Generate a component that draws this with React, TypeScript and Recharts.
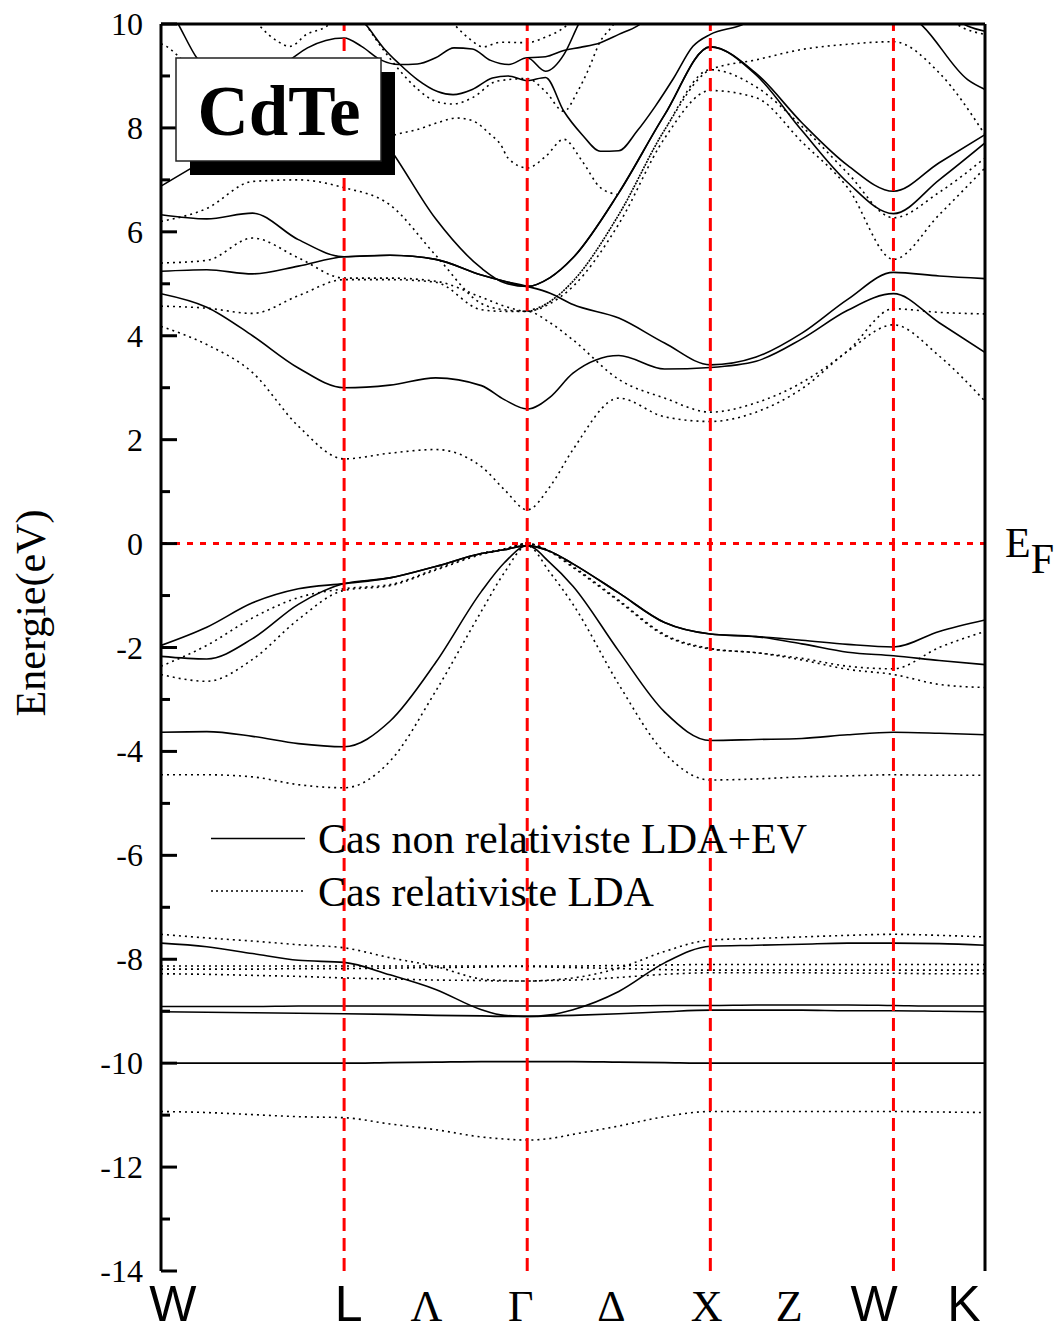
import React from 'react';
import { LineChart, Line, XAxis, YAxis, ReferenceLine } from 'recharts';

const serif = "'Liberation Serif', 'Times New Roman', Times, serif";
const sans = "'Liberation Sans', Arial, Helvetica, sans-serif";

// k path: W=0, L=2, Gamma=4, X=6, W=8, K=9
const symPoints = [2, 4, 6, 8];
const xTickMarks = [0.79, 1.79, 2.79, 3.79, 4.79, 5.79, 6.79, 7.79, 8.79];
const xLabels = ['W', 'L', 'Λ', 'Γ', 'Δ', 'X', 'Z', 'W', 'K'];
const xLabelPos = [0.13, 2.05, 2.9, 3.93, 4.92, 5.96, 6.86, 7.79, 8.77];
const yTicks = [-14, -13, -12, -11, -10, -9, -8, -7, -6, -5, -4, -3, -2, -1, 0, 1, 2, 3, 4, 5, 6, 7, 8, 9, 10];

const kGrid = [0, 0.5, 1, 1.5, 2, 2.5, 3, 3.5, 3.75, 4, 4.25, 4.5, 5, 5.5, 6, 6.5, 7, 7.5, 8, 8.5, 9];

// non relativistic LDA+EV (solid)
const sBand10 = [-10.0, -10.0, -10.0, -10.0, -10.0, -9.99, -9.98, -9.97, -9.97, -9.97, -9.97, -9.97, -9.98, -9.99, -10.0, -10.0, -10.0, -10.0, -10.0, -10.0, -10.0];
const sD1 = [-9.01, -9.02, -9.03, -9.04, -9.05, -9.06, -9.08, -9.09, -9.1, -9.1, -9.09, -9.08, -9.05, -9.01, -8.98, -8.98, -8.98, -8.99, -8.99, -9.0, -9.01];
const sD2 = [-8.91, -8.91, -8.91, -8.9, -8.9, -8.9, -8.9, -8.9, -8.9, -8.9, -8.9, -8.9, -8.9, -8.89, -8.89, -8.88, -8.88, -8.88, -8.89, -8.9, -8.9];
const sD3 = [-7.69, -7.76, -7.89, -8.02, -8.06, -8.3, -8.58, -8.97, -9.08, -9.1, -9.07, -8.97, -8.62, -8.07, -7.75, -7.73, -7.71, -7.69, -7.69, -7.7, -7.73];
const v1 = [-1.96, -1.61, -1.14, -0.87, -0.77, -0.66, -0.44, -0.19, -0.12, -0.04, -0.15, -0.39, -0.95, -1.52, -1.74, -1.79, -1.86, -1.94, -1.99, -1.69, -1.47];
const v2 = [-2.17, -2.22, -1.83, -1.17, -0.77, -0.66, -0.44, -0.19, -0.12, -0.04, -0.15, -0.39, -0.95, -1.52, -1.74, -1.79, -1.93, -2.09, -2.16, -2.25, -2.33];
const v3 = [-3.63, -3.62, -3.71, -3.85, -3.91, -3.42, -2.29, -0.92, -0.37, -0.04, -0.37, -0.82, -2.07, -3.24, -3.79, -3.77, -3.75, -3.68, -3.63, -3.65, -3.68];
const c1 = [4.81, 4.55, 4.0, 3.38, 3.0, 3.05, 3.19, 3.04, 2.77, 2.59, 2.82, 3.28, 3.62, 3.36, 3.39, 3.51, 3.94, 4.49, 4.81, 4.25, 3.68];
const c2 = [5.24, 5.27, 5.19, 5.34, 5.52, 5.55, 5.47, 5.17, 5.05, 4.95, 4.82, 4.6, 4.34, 3.86, 3.44, 3.59, 4.05, 4.7, 5.22, 5.15, 5.1];
const c3a = [6.33, 6.25, 6.36, 5.85, 5.52, 5.55, 5.47, 5.17, 5.05, 4.95, 5.12, 5.5, 6.75, 8.25, 9.56, 9.05, 8.1, 7.28, 6.78, 7.33, 7.87];
const c3b = [6.88, 7.4, 7.9, 8.3, 8.7, 7.6, 6.25, 5.3, 5.02, 4.95, 5.12, 5.5, 6.75, 8.25, 9.56, 9.02, 7.95, 6.95, 6.35, 7.0, 7.71];
// upper solid bands, [k, E]
const u1 = [[0, 10.6], [0.2, 9.96], [0.39, 9.35], [0.6, 9.0], [1.0, 8.9], [1.4, 9.3], [1.6, 9.54], [2, 9.73], [2.19, 9.57], [2.4, 9.31], [2.6, 9.22], [2.8, 9.23], [3.0, 9.35], [3.2, 9.54], [3.4, 9.52], [3.6, 9.3], [3.8, 9.22], [4, 9.35], [4.2, 9.09], [4.4, 9.41], [4.55, 9.96], [4.7, 10.5]];
const u1b = [[4, 9.35], [4.2, 9.37], [4.4, 9.49], [4.58, 9.55], [4.8, 9.64], [5.0, 9.8], [5.2, 9.96], [5.5, 10.4]];
const u2 = [[1.9, 10.6], [2.25, 9.96], [2.43, 9.54], [2.61, 9.22], [2.8, 8.93], [3.02, 8.7], [3.19, 8.64], [3.4, 8.74], [3.62, 8.96], [3.79, 9.0], [4, 8.91], [4.2, 8.97], [4.4, 8.32], [4.6, 7.87], [4.8, 7.55], [5, 7.56], [5.2, 7.94], [5.4, 8.42], [5.6, 8.96], [5.81, 9.57], [6, 9.8], [6.31, 9.96], [7, 10.6], [7.8, 10.6], [8.32, 9.96], [8.81, 8.93], [9, 8.74]];
const u3 = [[8.3, 10.8], [8.81, 9.96], [9, 9.86]];

// relativistic LDA (dotted)
const dS = [-10.93, -10.95, -10.99, -11.03, -11.05, -11.17, -11.28, -11.42, -11.46, -11.48, -11.45, -11.37, -11.21, -11.03, -10.93, -10.93, -10.93, -10.93, -10.93, -10.94, -10.95];
const dDip = [-7.52, -7.59, -7.65, -7.72, -7.78, -7.97, -8.14, -8.38, -8.41, -8.42, -8.4, -8.36, -8.17, -7.85, -7.63, -7.6, -7.57, -7.54, -7.52, -7.54, -7.57];
const dD2 = [-8.13, -8.13, -8.13, -8.13, -8.13, -8.13, -8.13, -8.13, -8.13, -8.13, -8.13, -8.13, -8.12, -8.11, -8.1, -8.1, -8.1, -8.1, -8.1, -8.1, -8.1];
const dD3 = [-8.19, -8.19, -8.19, -8.18, -8.18, -8.17, -8.16, -8.15, -8.14, -8.14, -8.15, -8.16, -8.18, -8.2, -8.21, -8.21, -8.21, -8.21, -8.21, -8.21, -8.21];
const dD4 = [-8.28, -8.29, -8.31, -8.33, -8.36, -8.38, -8.4, -8.41, -8.42, -8.42, -8.41, -8.4, -8.35, -8.29, -8.26, -8.26, -8.26, -8.27, -8.27, -8.28, -8.28];
const d1 = [-2.36, -1.96, -1.43, -1.04, -0.87, -0.79, -0.49, -0.19, -0.1, 0, -0.15, -0.44, -1.09, -1.75, -2.02, -2.1, -2.21, -2.36, -2.41, -2.0, -1.69];
const d2 = [-2.52, -2.65, -2.23, -1.46, -0.9, -0.81, -0.51, -0.21, -0.11, 0, -0.16, -0.46, -1.11, -1.77, -2.03, -2.1, -2.24, -2.42, -2.52, -2.71, -2.77];
const d3 = [-4.45, -4.45, -4.49, -4.64, -4.7, -4.19, -2.84, -1.3, -0.56, -0.04, -0.56, -1.17, -2.71, -4.03, -4.55, -4.53, -4.49, -4.47, -4.45, -4.46, -4.46];
const dc1 = [4.18, 3.83, 3.29, 2.26, 1.63, 1.74, 1.81, 1.48, 1.04, 0.65, 1.1, 1.81, 2.8, 2.44, 2.35, 2.53, 2.98, 3.7, 4.21, 3.61, 2.74];
const dB = [4.57, 4.53, 4.43, 4.77, 5.08, 5.08, 5.03, 4.5, 4.47, 4.47, 4.25, 3.92, 3.16, 2.8, 2.53, 2.71, 3.1, 3.71, 4.52, 4.45, 4.42];
const dA = [5.4, 5.45, 5.88, 5.5, 5.11, 5.11, 5.05, 4.74, 4.57, 4.47, 4.66, 5.05, 6.33, 7.96, 9.12, 9.31, 9.51, 9.61, 9.66, 9.06, 7.87];
const dCc = [6.2, 6.45, 6.97, 7.0, 6.85, 6.52, 5.55, 4.62, 4.5, 4.47, 4.62, 4.95, 6.15, 7.8, 8.72, 8.58, 7.73, 6.85, 5.47, 6.33, 7.23];
const dD = [[4, 4.47], [4.25, 4.66], [4.5, 5.05], [5, 6.33], [5.5, 7.96], [6, 9.12], [6.5, 8.79], [7, 8.03], [7.5, 7.13], [8, 6.27], [8.5, 6.76], [9, 7.42]];
const dV = [[0.85, 10.5], [1.08, 9.96], [1.27, 9.67], [1.41, 9.57], [1.59, 9.8], [1.81, 9.96], [2.0, 10.3]];
const dW = [[0, 9.62], [0.06, 9.57], [0.17, 9.41], [0.4, 9.0]];
const dT = [[3.05, 10.3], [3.22, 9.96], [3.38, 9.7], [3.52, 9.56], [3.71, 9.65], [4, 9.64], [4.2, 9.75], [4.4, 9.93], [4.6, 10.3]];
const dG = [[2.3, 7.7], [2.56, 7.87], [2.8, 7.97], [3.02, 8.1], [3.23, 8.19], [3.4, 8.14], [3.6, 7.87], [3.71, 7.68], [3.79, 7.42], [4, 7.23], [4.2, 7.45], [4.4, 7.78], [4.6, 7.36], [4.8, 6.85], [4.98, 6.72]];
const dU = [[2.2, 10.1], [2.25, 9.96], [2.43, 9.5], [2.61, 9.1], [2.8, 8.75], [3.02, 8.5], [3.19, 8.46], [3.4, 8.58], [3.67, 8.9], [4.0, 8.95], [4.2, 8.7], [4.4, 8.32], [4.55, 8.7], [4.66, 9.09], [4.8, 9.67], [4.93, 9.96], [5.05, 10.3]];
const dK = [[8.6, 10.1], [8.77, 9.92], [9, 9.8]];

const onGrid = (vals: number[]) => vals.map((e, i) => ({ k: kGrid[i], e }));
const fromPairs = (pts: number[][]) => pts.map(([k, e]) => ({ k, e }));

const solidSeries = [
  ...[sBand10, sD1, sD2, sD3, v1, v2, v3, c1, c2, c3a, c3b].map(onGrid),
  ...[u1, u1b, u2, u3].map(fromPairs),
];
const dottedSeries = [
  ...[dS, dDip, dD2, dD3, dD4, d1, d2, d3, dc1, dB, dA, dCc].map(onGrid),
  ...[dD, dV, dW, dT, dG, dU, dK].map(fromPairs),
];

const YTick = (props: any) => {
  const { x, y, payload } = props;
  const v = payload.value;
  const major = v % 2 === 0;
  const ax = x + 18;
  return (
    <g>
      <line x1={ax} x2={ax + (major ? 16 : 9)} y1={y} y2={y} stroke="#000" strokeWidth={3} />
      {major && (
        <text x={x} y={y} dy={11} textAnchor="end" fontSize={32} fontFamily={serif} fill="#000">
          {v}
        </text>
      )}
    </g>
  );
};

const XMark = (props: any) => {
  const { x, y, index } = props;
  const len = index % 2 === 1 ? 17 : 10;
  return <line x1={x} x2={x} y1={y} y2={y - len} stroke="#000" strokeWidth={2.5} />;
};

const XLabel = (props: any) => {
  const { x, y, index } = props;
  const s = xLabels[index];
  const isSans = s === 'W' || s === 'L' || s === 'K';
  return (
    <text x={x} y={y + 50} textAnchor="middle" fontSize={isSans ? 50 : 44} fontFamily={isSans ? sans : serif} fill="#000">
      {s}
    </text>
  );
};

const EFLabel = (props: any) => {
  const vb = props.viewBox;
  return (
    <text x={vb.x + vb.width + 20} y={vb.y + 13} fontSize={42} fontFamily={serif} fill="#000">
      E<tspan dy={16}>F</tspan>
    </text>
  );
};

export default function App() {
  return (
    <div style={{ position: 'relative', width: 1058, height: 1332, background: '#fff' }}>
      <style>{'body{margin:0}'}</style>
      <LineChart width={1058} height={1332} margin={{ top: 24, right: 73, bottom: 0, left: 0 }}>
        <XAxis
          dataKey="k"
          type="number"
          domain={[0, 9]}
          allowDataOverflow
          ticks={xTickMarks}
          interval={0}
          tick={<XMark />}
          tickLine={false}
          tickSize={0}
          tickMargin={0}
          height={0}
          axisLine={{ stroke: '#000', strokeWidth: 3 }}
        />
        <XAxis
          xAxisId="lab"
          dataKey="k"
          type="number"
          domain={[0, 9]}
          allowDataOverflow
          ticks={xLabelPos}
          interval={0}
          tick={<XLabel />}
          tickLine={false}
          tickSize={0}
          tickMargin={0}
          height={61}
          axisLine={false}
        />
        <YAxis
          type="number"
          domain={[-14, 10]}
          allowDataOverflow
          ticks={yTicks}
          interval={0}
          tick={<YTick />}
          tickLine={false}
          tickSize={0}
          tickMargin={18}
          width={161}
          axisLine={{ stroke: '#000', strokeWidth: 3 }}
        />
        {dottedSeries.map((d, i) => (
          <Line
            key={'d' + i}
            data={d}
            dataKey="e"
            type="monotone"
            stroke="#000"
            strokeWidth={1.6}
            strokeDasharray="2 4"
            dot={false}
            activeDot={false}
            isAnimationActive={false}
          />
        ))}
        {solidSeries.map((d, i) => (
          <Line
            key={'s' + i}
            data={d}
            dataKey="e"
            type="monotone"
            stroke="#000"
            strokeWidth={1.6}
            dot={false}
            activeDot={false}
            isAnimationActive={false}
          />
        ))}
        {symPoints.map((p) => (
          <ReferenceLine key={p} x={p} stroke="#ff0000" strokeWidth={3} strokeDasharray="13 7" />
        ))}
        <ReferenceLine y={0} stroke="#ff0000" strokeWidth={3} strokeDasharray="6 7" label={<EFLabel />} />
        <ReferenceLine y={10} stroke="#000" strokeWidth={3} />
        <ReferenceLine x={9} stroke="#000" strokeWidth={3} />
      </LineChart>
      <svg width={1058} height={1332} style={{ position: 'absolute', left: 0, top: 0, pointerEvents: 'none' }}>
        <rect x={190} y={72} width={205} height={103} fill="#000" />
        <rect x={176} y={58} width={205} height={103} fill="#fff" stroke="#222" strokeWidth={1.5} />
        <text x={279} y={135} textAnchor="middle" fontSize={71} fontWeight="bold" fontFamily={serif} fill="#000">
          CdTe
        </text>
        <line x1={211} x2={305} y1={838.5} y2={838.5} stroke="#000" strokeWidth={1.5} />
        <text x={318} y={853} fontSize={42} fontFamily={serif} fill="#000">
          Cas non relativiste LDA+EV
        </text>
        <line x1={211} x2={305} y1={891} y2={891} stroke="#000" strokeWidth={1.5} strokeDasharray="2 3" />
        <text x={318} y={906} fontSize={42} fontFamily={serif} fill="#000">
          Cas relativiste LDA
        </text>
        <text transform="translate(45, 613) rotate(-90)" textAnchor="middle" fontSize={42} fontFamily={serif} fill="#000">
          Energie(eV)
        </text>
      </svg>
    </div>
  );
}
